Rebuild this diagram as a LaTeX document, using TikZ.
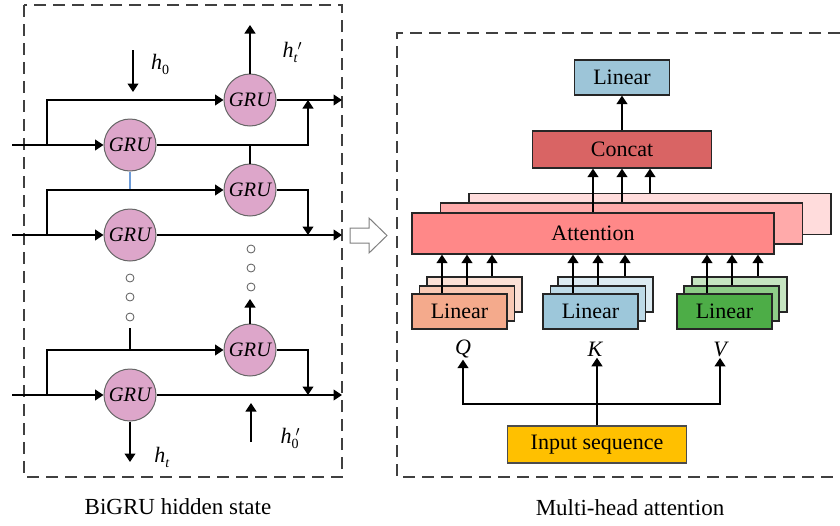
\documentclass[tikz,border=0pt]{standalone}
\usepackage{fontspec}
\setmainfont{Liberation Serif}
\usetikzlibrary{arrows.meta}
\definecolor{grufill}{HTML}{DDA6CA}
\definecolor{linblue}{HTML}{9DC5D8}
\definecolor{concatc}{HTML}{D96464}
\definecolor{attA}{HTML}{FF8888}
\definecolor{attB}{HTML}{FFAAAA}
\definecolor{attC}{HTML}{FFDCDC}
\definecolor{qA}{HTML}{F4AA8C}
\definecolor{qB}{HTML}{F8C9B4}
\definecolor{qC}{HTML}{FBE1D6}
\definecolor{kA}{HTML}{9DC7DA}
\definecolor{kB}{HTML}{BDDAE7}
\definecolor{kC}{HTML}{DCEBF2}
\definecolor{vA}{HTML}{4DAD47}
\definecolor{vB}{HTML}{8ECC88}
\definecolor{vC}{HTML}{C6E5C1}
\definecolor{inputc}{HTML}{FFC000}
\definecolor{linkblue}{HTML}{6E9CD8}
\newcommand{\hsub}[1]{\textit{h}\raisebox{-5pt}{\fontsize{14}{14}\selectfont #1}}
\newcommand{\hsubp}[1]{\textit{h}\rlap{\raisebox{-5pt}{\fontsize{14}{14}\selectfont #1}}\raisebox{7pt}{\hspace{4pt}\fontsize{14}{14}\selectfont$\prime$}}
\begin{document}
\begin{tikzpicture}[x=1pt,y=-1pt,line width=1.2pt,
  arr/.style={-{Triangle[width=11pt,length=8.5pt]}},
  gru/.style={circle,draw=black!60,line width=1pt,fill=grufill,minimum size=52pt,inner sep=0pt,font=\fontsize{20.5}{20.5}\selectfont\itshape},
  box/.style={draw=black!85,line width=1.3pt,minimum width=95pt,minimum height=35pt,inner sep=0pt,font=\fontsize{22}{22}\selectfont},
  dotc/.style={circle,draw=black!65,line width=0.8pt,minimum size=8pt,inner sep=0pt,fill=white},
  frame/.style={draw=black!75,line width=1.2pt,dash pattern=on 12pt off 7pt},
  lab/.style={font=\fontsize{22}{22}\selectfont,inner sep=1pt},
  caplab/.style={font=\fontsize{23}{23}\selectfont,inner sep=1pt},
  bluel/.style={draw=linkblue,line width=1.1pt}]
\useasboundingbox (0,0) rectangle (840,525);
% frames
\draw[frame] (24,5) rectangle (342,477);
\draw[frame] (840,33) -- (397,33) -- (397,477) -- (840,477);
% GRU nodes
\node[gru] (g0) at (250,100) {GRU};
\node[gru] (g1) at (130,145) {GRU};
\node[gru] (g2) at (250,190) {GRU};
\node[gru] (g3) at (130,235) {GRU};
\node[gru] (g4) at (250,350) {GRU};
\node[gru] (g5) at (130,395) {GRU};
% dots
\node[dotc] (dl1) at (130,278) {};
\node[dotc] (dl2) at (130,297) {};
\node[dotc] (dl3) at (130,317) {};
\node[dotc] (dr1) at (251,249) {};
\node[dotc] (dr2) at (251,268) {};
\node[dotc] (dr3) at (251,287) {};
% coordinates
\coordinate (in1) at (12,145);
\coordinate (in2) at (12,235);
\coordinate (in3) at (12,395);
\coordinate (b1) at (47,145);
\coordinate (b2) at (47,235);
\coordinate (b3) at (47,395);
\coordinate (j1) at (308,100);
\coordinate (j2) at (308,235);
\coordinate (j3) at (308,395);
\coordinate (o0) at (342,100);
\coordinate (o2) at (342,235);
\coordinate (o3) at (342,395);
\coordinate (u4) at (250,299);
\coordinate (c3) at (130,328);
\coordinate (ht) at (130,462);
\coordinate (h0s) at (133,50);
\coordinate (h0e) at (133,92);
\coordinate (htp) at (250,25);
\coordinate (h0ps) at (251,442);
\coordinate (h0pe) at (251,403);
% connectors left
\draw[arr] (in1) -- (g1.west);
\draw[arr] (b1) |- (g0.west);
\draw[arr] (g1.east) -| (j1);
\draw[arr] (g0.east) -- (o0);
\draw (g2.north) -- (g2.north |- g1.east);
\draw[bluel] (g1.south) -- (g1.south |- g2.west);
\draw[arr] (in2) -- (g3.west);
\draw[arr] (b2) |- (g2.west);
\draw[arr] (g2.east) -| (j2);
\draw[arr] (g3.east) -- (o2);
\draw[arr] (g4.north) -- (u4);
\draw[arr] (in3) -- (g5.west);
\draw[arr] (b3) |- (g4.west);
\draw (c3) -- (c3 |- g4.west);
\draw[arr] (g4.east) -| (j3);
\draw[arr] (g5.east) -- (o3);
\draw[arr] (g5.south) -- (ht);
\draw[arr] (h0ps) -- (h0pe);
\draw[arr] (h0s) -- (h0e);
\draw[arr] (g0.north) -- (htp);
% h labels
\node[lab] (lh0) at (160,64) {\hsub{0}};
\node[lab] (lhtp) at (292,52) {\hsubp{\textit{t}}};
\node[lab] (lht) at (162,457) {\hsub{\textit{t}}};
\node[lab] (lh0p) at (290,438) {\hsubp{0}};
% hollow arrow
\draw[draw=black!50,line width=1pt,fill=white] (350,228) -- (369,228) -- (369,218) -- (387,235.5) -- (369,253) -- (369,243) -- (350,243) -- cycle;
% right side
\node[box,fill=linblue] (lin) at (622,77.5) {Linear};
\node[box,fill=concatc,minimum width=179pt,minimum height=37pt] (cat) at (622,149.5) {Concat};
\node[box,fill=attC,minimum width=362pt,minimum height=41pt] (att3) at (650,214) {};
\node[box,fill=attB,minimum width=362pt,minimum height=41pt] (att2) at (621.5,223.5) {};
\node[box,fill=attA,minimum width=362pt,minimum height=41pt] (att) at (593,233.5) {Attention};
\node[box,fill=qC] (q3) at (474.5,294.5) {};
\node[box,fill=qB] (q2) at (467,303.5) {};
\node[box,fill=qA] (q1) at (459.5,311.5) {Linear};
\node[box,fill=kC] (k3) at (605.5,294.5) {};
\node[box,fill=kB] (k2) at (598,303.5) {};
\node[box,fill=kA] (k1) at (590.5,311.5) {Linear};
\node[box,fill=vC] (v3) at (739.5,294.5) {};
\node[box,fill=vB] (v2) at (731.5,303.5) {};
\node[box,fill=vA] (v1) at (724.5,311.5) {Linear};
\node[lab,font=\fontsize{22}{22}\selectfont\itshape] (lq) at (463,349) {Q};
\node[lab,font=\fontsize{22}{22}\selectfont\itshape] (lk) at (595,349) {K};
\node[lab,font=\fontsize{22}{22}\selectfont\itshape] (lv) at (720,349) {V};
\node[box,fill=inputc,draw=black!70,minimum width=179pt,minimum height=37pt] (inp) at (597,444.5) {Input sequence};
\coordinate (split) at (597,404);
% right connectors
\draw[arr] (cat.north) -- (lin.south);
\draw[arr] (593,0 |- att.north) -- (593,0 |- cat.south);
\draw[arr] (622,0 |- att2.north) -- (622,0 |- cat.south);
\draw[arr] (650,0 |- att3.north) -- (650,0 |- cat.south);
\draw[arr] (442,0 |- q1.north) -- (442,0 |- att.south);
\draw[arr] (467,0 |- q2.north) -- (467,0 |- att.south);
\draw[arr] (492,0 |- q3.north) -- (492,0 |- att.south);
\draw[arr] (573,0 |- k1.north) -- (573,0 |- att.south);
\draw[arr] (598,0 |- k2.north) -- (598,0 |- att.south);
\draw[arr] (625,0 |- k3.north) -- (625,0 |- att.south);
\draw[arr] (707,0 |- v1.north) -- (707,0 |- att.south);
\draw[arr] (732,0 |- v2.north) -- (732,0 |- att.south);
\draw[arr] (758,0 |- v3.north) -- (758,0 |- att.south);
\draw[arr] (inp.north) -- (inp.north |- lk.south);
\draw[arr] (split) -| (lq.south);
\draw[arr] (split) -| (lv.south);
% captions
\node[caplab] (capl) at (178,507) {BiGRU hidden state};
\node[caplab] (capr) at (630,508) {Multi-head attention};
\end{tikzpicture}
\end{document}
